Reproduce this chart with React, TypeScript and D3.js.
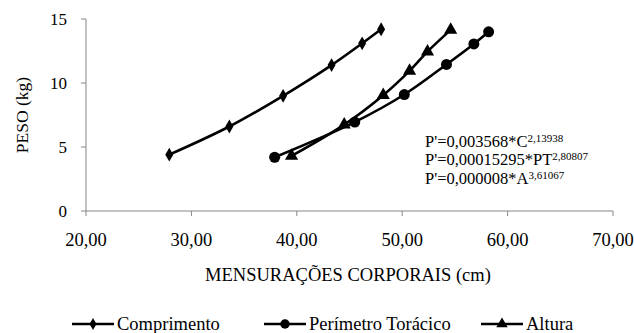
import React from "react";
import * as d3 from "d3";

// medidas (cm) x peso (kg)
const comprimentoX = [27.9, 33.6, 38.7, 43.3, 46.2, 48.0];
const comprimentoY = [4.4, 6.6, 9.0, 11.4, 13.1, 14.2];
const perimetroX = [37.9, 45.5, 50.2, 54.2, 56.8, 58.2];
const perimetroY = [4.2, 6.95, 9.1, 11.45, 13.05, 14.0];
const alturaX = [39.5, 44.5, 48.2, 50.7, 52.4, 54.6];
const alturaY = [4.3, 6.75, 9.05, 10.95, 12.45, 14.15];

const xTicks = [20, 30, 40, 50, 60, 70];
const yTicks = [0, 5, 10, 15];

const equations = [
  { base: "P'=0,003568*C", exp: "2,13938" },
  { base: "P'=0,00015295*PT", exp: "2,80807" },
  { base: "P'=0,000008*A", exp: "3,61067" },
];

const series = [
  { name: "Comprimento", xs: comprimentoX, ys: comprimentoY, symbol: d3.symbolDiamond, size: 55 },
  { name: "Perímetro Torácico", xs: perimetroX, ys: perimetroY, symbol: d3.symbolCircle, size: 95 },
  { name: "Altura", xs: alturaX, ys: alturaY, symbol: d3.symbolTriangle, size: 75 },
];

const W = 634;
const H = 333;
const font = "'Liberation Serif', 'Times New Roman', serif";

export default function App() {
  const x = d3.scaleLinear().domain([20, 70]).range([86, 613]);
  const y = d3.scaleLinear().domain([0, 15]).range([211, 19]);

  const line = d3
    .line<[number, number]>()
    .x((d) => x(d[0]))
    .y((d) => y(d[1]))
    .curve(d3.curveCatmullRom);

  // legend entry x offsets
  const legendPos = [72, 264, 481];

  return (
    <svg width={W} height={H} style={{ position: "absolute", left: 0, top: 0 }} fontFamily={font}>
      <rect width={W} height={H} fill="#fff" />
      {/* axes */}
      <line x1={x(20)} x2={x(20)} y1={y(15)} y2={y(0)} stroke="#868686" />
      <line x1={x(20)} x2={x(70)} y1={y(0)} y2={y(0)} stroke="#868686" />
      {yTicks.map((t) => (
        <g key={"y" + t}>
          <line x1={x(20) - 5} x2={x(20)} y1={y(t)} y2={y(t)} stroke="#868686" />
          <text x={67} y={y(t)} dy="0.35em" textAnchor="end" fontSize={17}>
            {t}
          </text>
        </g>
      ))}
      {xTicks.map((t) => (
        <g key={"x" + t}>
          <line x1={x(t)} x2={x(t)} y1={y(0)} y2={y(0) + 5} stroke="#868686" />
          <text x={x(t)} y={240} dy="0.35em" textAnchor="middle" fontSize={18.5}>
            {d3.format(".2f")(t).replace(".", ",")}
          </text>
        </g>
      ))}
      <text x={348} y={275} dy="0.35em" textAnchor="middle" fontSize={18.5}>
        MENSURAÇÕES CORPORAIS (cm)
      </text>
      <text transform={`translate(22,115) rotate(-90)`} dy="0.35em" textAnchor="middle" fontSize={17.5}>
        PESO (kg)
      </text>

      {/* series */}
      {series.map((s) => {
        const pts = s.xs.map((v, i) => [v, s.ys[i]] as [number, number]);
        const sym = d3.symbol().type(s.symbol).size(s.size)();
        return (
          <g key={s.name}>
            <path d={line(pts) ?? ""} fill="none" stroke="#000" strokeWidth={2.6} />
            {pts.map((p, i) => (
              <path key={i} d={sym ?? ""} transform={`translate(${x(p[0])},${y(p[1])})`} fill="#000" />
            ))}
          </g>
        );
      })}

      {/* equations */}
      {equations.map((e, i) => (
        <text key={e.base} x={425} y={141 + i * 18.5} dy="0.35em" fontSize={16.5}>
          {e.base}
          <tspan fontSize={11} dy="-0.45em">
            {e.exp}
          </tspan>
        </text>
      ))}

      {/* legend */}
      {series.map((s, i) => {
        const sym = d3.symbol().type(s.symbol).size(s.size * 0.75)();
        const lx = legendPos[i];
        return (
          <g key={"leg" + s.name} transform={`translate(${lx},324)`}>
            <line x1={0} x2={42} y1={0} y2={0} stroke="#000" strokeWidth={2.6} />
            <path d={sym ?? ""} transform="translate(21,0)" fill="#000" />
            <text x={45} y={0} dy="0.35em" fontSize={18.5}>
              {s.name}
            </text>
          </g>
        );
      })}
    </svg>
  );
}
